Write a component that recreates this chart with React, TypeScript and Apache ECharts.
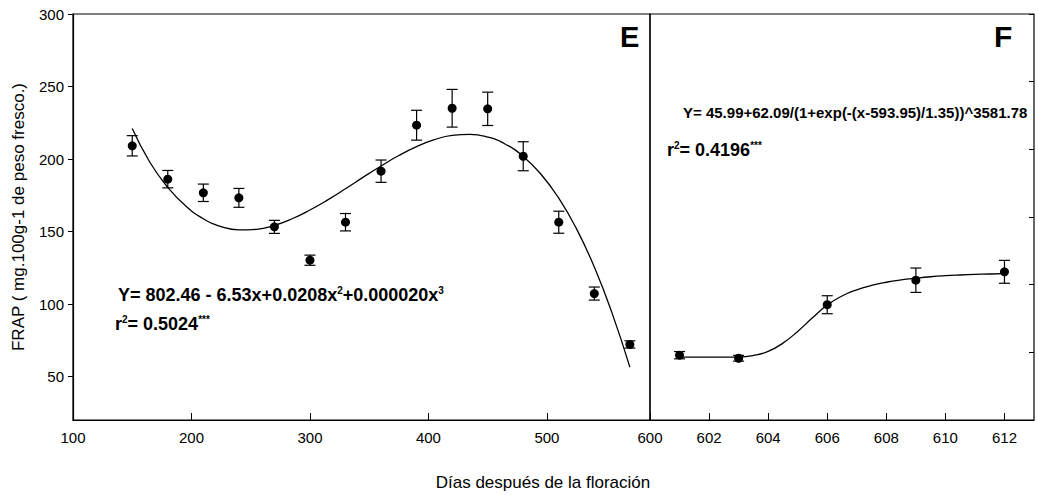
import React, { useEffect, useRef } from "react";
import * as echarts from "echarts";

// Panel E data (days after flowering, FRAP, standard error)
const E_DAYS = [150, 180, 210, 240, 270, 300, 330, 360, 390, 420, 450, 480, 510, 540, 570];
const E_FRAP = [209.1, 186.1, 176.7, 173.2, 153.2, 130.2, 156.4, 191.6, 223.3, 235, 234.6, 201.9, 156.4, 107.2, 72.1];
const E_ERR = [7, 6, 6, 6.5, 4.5, 3.5, 6, 7.7, 10.3, 13, 11.5, 10, 7.6, 4.5, 2.5];

// Panel E fitted cubic curve
const E_FIT_X = [150, 165, 180, 195, 210, 225, 240, 255, 270, 285, 300, 315, 330, 345, 360, 375, 390, 405, 420, 435, 450, 465, 480, 495, 510, 525, 540, 555, 570];
const E_FIT_Y = [221, 197.6, 180.5, 167.7, 158.8, 153.4, 151.1, 151.5, 154.2, 158.8, 164.8, 171.8, 179.5, 187.5, 195.2, 202.4, 208.5, 213.3, 216.3, 217, 215.1, 210.2, 201.8, 189.5, 173, 151.8, 125.5, 93.7, 56.5];

// Panel F data
const F_DAYS = [601, 603, 606, 609, 612];
const F_FRAP = [64.7, 62.6, 99.5, 116.4, 122.2];
const F_ERR = [2.5, 2, 6.2, 8.4, 7.9];

// Panel F fitted sigmoid
const F_FIT_X = [601, 601.5, 602, 602.5, 603, 603.5, 604, 604.5, 605, 605.5, 606, 606.5, 607, 607.5, 608, 608.5, 609, 609.5, 610, 610.5, 611, 611.5, 612];
const F_FIT_Y = [63.3, 63.3, 63.3, 63.3, 63.4, 64.5, 67.3, 73.0, 81.1, 90.5, 99.3, 105.5, 109.8, 112.8, 115.0, 116.6, 117.8, 118.8, 119.5, 120.0, 120.4, 120.7, 121.0];

// Tick labels
const X_E_TICKS = [100, 200, 300, 400, 500];
const X_F_TICKS = [600, 602, 604, 606, 608, 610, 612];
const Y_TICKS = [50, 100, 150, 200, 250, 300];

const FONT = "'Liberation Sans', Arial, Helvetica, sans-serif";

function errorBarSeries(xAxisIndex: number, yAxisIndex: number, days: number[], vals: number[], errs: number[]) {
  return {
    type: "custom",
    xAxisIndex,
    yAxisIndex,
    z: 2,
    silent: true,
    encode: { x: 0, y: 1 },
    data: days.map((d, i) => [d, vals[i], errs[i]]),
    renderItem: (params: any, api: any) => {
      const x = api.value(0);
      const y = api.value(1);
      const e = api.value(2);
      const top = api.coord([x, y + e]);
      const bot = api.coord([x, y - e]);
      const half = 5.5;
      const style = { stroke: "#000", lineWidth: 1.2 };
      return {
        type: "group",
        children: [
          { type: "line", shape: { x1: top[0], y1: top[1], x2: bot[0], y2: bot[1] }, style },
          { type: "line", shape: { x1: top[0] - half, y1: top[1], x2: top[0] + half, y2: top[1] }, style },
          { type: "line", shape: { x1: bot[0] - half, y1: bot[1], x2: bot[0] + half, y2: bot[1] }, style },
        ],
      };
    },
  };
}

const RICH = {
  a: { fontSize: 18, lineHeight: 20, fontWeight: "bold", fontFamily: FONT, fill: "#000", color: "#000" },
  s: { fontSize: 10, lineHeight: 10, fontWeight: "bold", fontFamily: FONT, fill: "#000", color: "#000", verticalAlign: "top" },
};

export default function App() {
  const ref = useRef<HTMLDivElement>(null);

  useEffect(() => {
    document.body.style.margin = "0";
    if (!ref.current) return;
    const chart = echarts.init(ref.current, null, { renderer: "svg" });

    const axisLine = { show: true, lineStyle: { color: "#000", width: 1.2 } };
    const labelStyle = { color: "#000", fontSize: 15, fontFamily: FONT };

    const option: any = {
      animation: false,
      backgroundColor: "#fff",
      grid: [
        { left: 73, top: 14, width: 577, height: 406, show: true, borderColor: "#000", borderWidth: 1.2 },
        { left: 650, top: 14, width: 384, height: 406, show: true, borderColor: "#000", borderWidth: 1.2 },
      ],
      xAxis: [
        {
          gridIndex: 0,
          type: "value",
          min: 100,
          max: 587,
          axisLine,
          splitLine: { show: false },
          axisTick: { show: true, inside: true, length: 7, lineStyle: { color: "#000" }, customValues: X_E_TICKS },
          axisLabel: { ...labelStyle, margin: 10, customValues: X_E_TICKS },
        },
        {
          gridIndex: 1,
          type: "value",
          min: 600,
          max: 613,
          axisLine,
          splitLine: { show: false },
          axisTick: { show: true, inside: true, length: 7, lineStyle: { color: "#000" }, customValues: X_F_TICKS },
          axisLabel: { ...labelStyle, margin: 10, customValues: X_F_TICKS },
        },
      ],
      yAxis: [
        {
          gridIndex: 0,
          type: "value",
          min: 20,
          max: 300,
          axisLine,
          splitLine: { show: false },
          axisTick: { show: true, inside: false, length: 5, lineStyle: { color: "#000" }, customValues: Y_TICKS },
          axisLabel: { ...labelStyle, margin: 9, customValues: Y_TICKS },
        },
        {
          gridIndex: 1,
          type: "value",
          min: 20,
          max: 300,
          show: false,
        },
        {
          gridIndex: 1,
          type: "value",
          position: "right",
          min: 0,
          max: 6,
          interval: 1,
          axisLine: { show: false },
          splitLine: { show: false },
          axisTick: { show: true, inside: true, length: 5, lineStyle: { color: "#000" } },
          axisLabel: { show: false },
        },
      ],
      series: [
        {
          type: "line",
          xAxisIndex: 0,
          yAxisIndex: 0,
          smooth: 0.5,
          showSymbol: false,
          symbol: "none",
          silent: true,
          z: 1,
          lineStyle: { color: "#000", width: 1.3 },
          data: E_FIT_X.map((x, i) => [x, E_FIT_Y[i]]),
        },
        errorBarSeries(0, 0, E_DAYS, E_FRAP, E_ERR),
        {
          type: "scatter",
          xAxisIndex: 0,
          yAxisIndex: 0,
          symbol: "circle",
          symbolSize: 9,
          z: 3,
          itemStyle: { color: "#000", opacity: 1 },
          data: E_DAYS.map((d, i) => [d, E_FRAP[i]]),
        },
        {
          type: "line",
          xAxisIndex: 1,
          yAxisIndex: 1,
          smooth: 0.5,
          showSymbol: false,
          symbol: "none",
          silent: true,
          z: 1,
          lineStyle: { color: "#000", width: 1.3 },
          data: F_FIT_X.map((x, i) => [x, F_FIT_Y[i]]),
        },
        errorBarSeries(1, 1, F_DAYS, F_FRAP, F_ERR),
        {
          type: "scatter",
          xAxisIndex: 1,
          yAxisIndex: 1,
          symbol: "circle",
          symbolSize: 9,
          z: 3,
          itemStyle: { color: "#000", opacity: 1 },
          data: F_DAYS.map((d, i) => [d, F_FRAP[i]]),
        },
      ],
      graphic: [
        {
          type: "text",
          left: 620,
          top: 22,
          style: { text: "E", fontSize: 29, fontWeight: "bold", fontFamily: FONT, fill: "#000" },
        },
        {
          type: "text",
          left: 994,
          top: 21,
          style: { text: "F", fontSize: 30, fontWeight: "bold", fontFamily: FONT, fill: "#000" },
        },
        {
          type: "text",
          x: 118,
          y: 295,
          style: {
            text: "{a|Y= 802.46 - 6.53x+0.0208x}{s|2}{a|+0.000020x}{s|3}",
            verticalAlign: "middle",
            rich: RICH,
          },
        },
        {
          type: "text",
          x: 115,
          y: 324,
          style: {
            text: "{a|r}{s|2}{a|= 0.5024}{s|***}",
            verticalAlign: "middle",
            rich: RICH,
          },
        },
        {
          type: "text",
          x: 683,
          y: 112,
          style: {
            text: "Y= 45.99+62.09/(1+exp(-(x-593.95)/1.35))^3581.78",
            verticalAlign: "middle",
            fontSize: 15,
            fontWeight: "bold",
            fontFamily: FONT,
            fill: "#000",
          },
        },
        {
          type: "text",
          x: 667,
          y: 150,
          style: {
            text: "{a|r}{s|2}{a|= 0.4196}{s|***}",
            verticalAlign: "middle",
            rich: RICH,
          },
        },
        {
          type: "text",
          x: 543,
          y: 482,
          style: {
            text: "Días después de la floración",
            align: "center",
            verticalAlign: "middle",
            fontSize: 17,
            fontFamily: FONT,
            fill: "#000",
          },
        },
        {
          type: "text",
          x: 18,
          y: 217,
          rotation: Math.PI / 2,
          style: {
            text: "FRAP ( mg.100g-1 de peso fresco.)",
            align: "center",
            verticalAlign: "middle",
            fontSize: 17,
            fontFamily: FONT,
            fill: "#000",
          },
        },
      ],
    };

    chart.setOption(option);
    return () => chart.dispose();
  }, []);

  return <div ref={ref} style={{ width: 1038, height: 495 }} />;
}
